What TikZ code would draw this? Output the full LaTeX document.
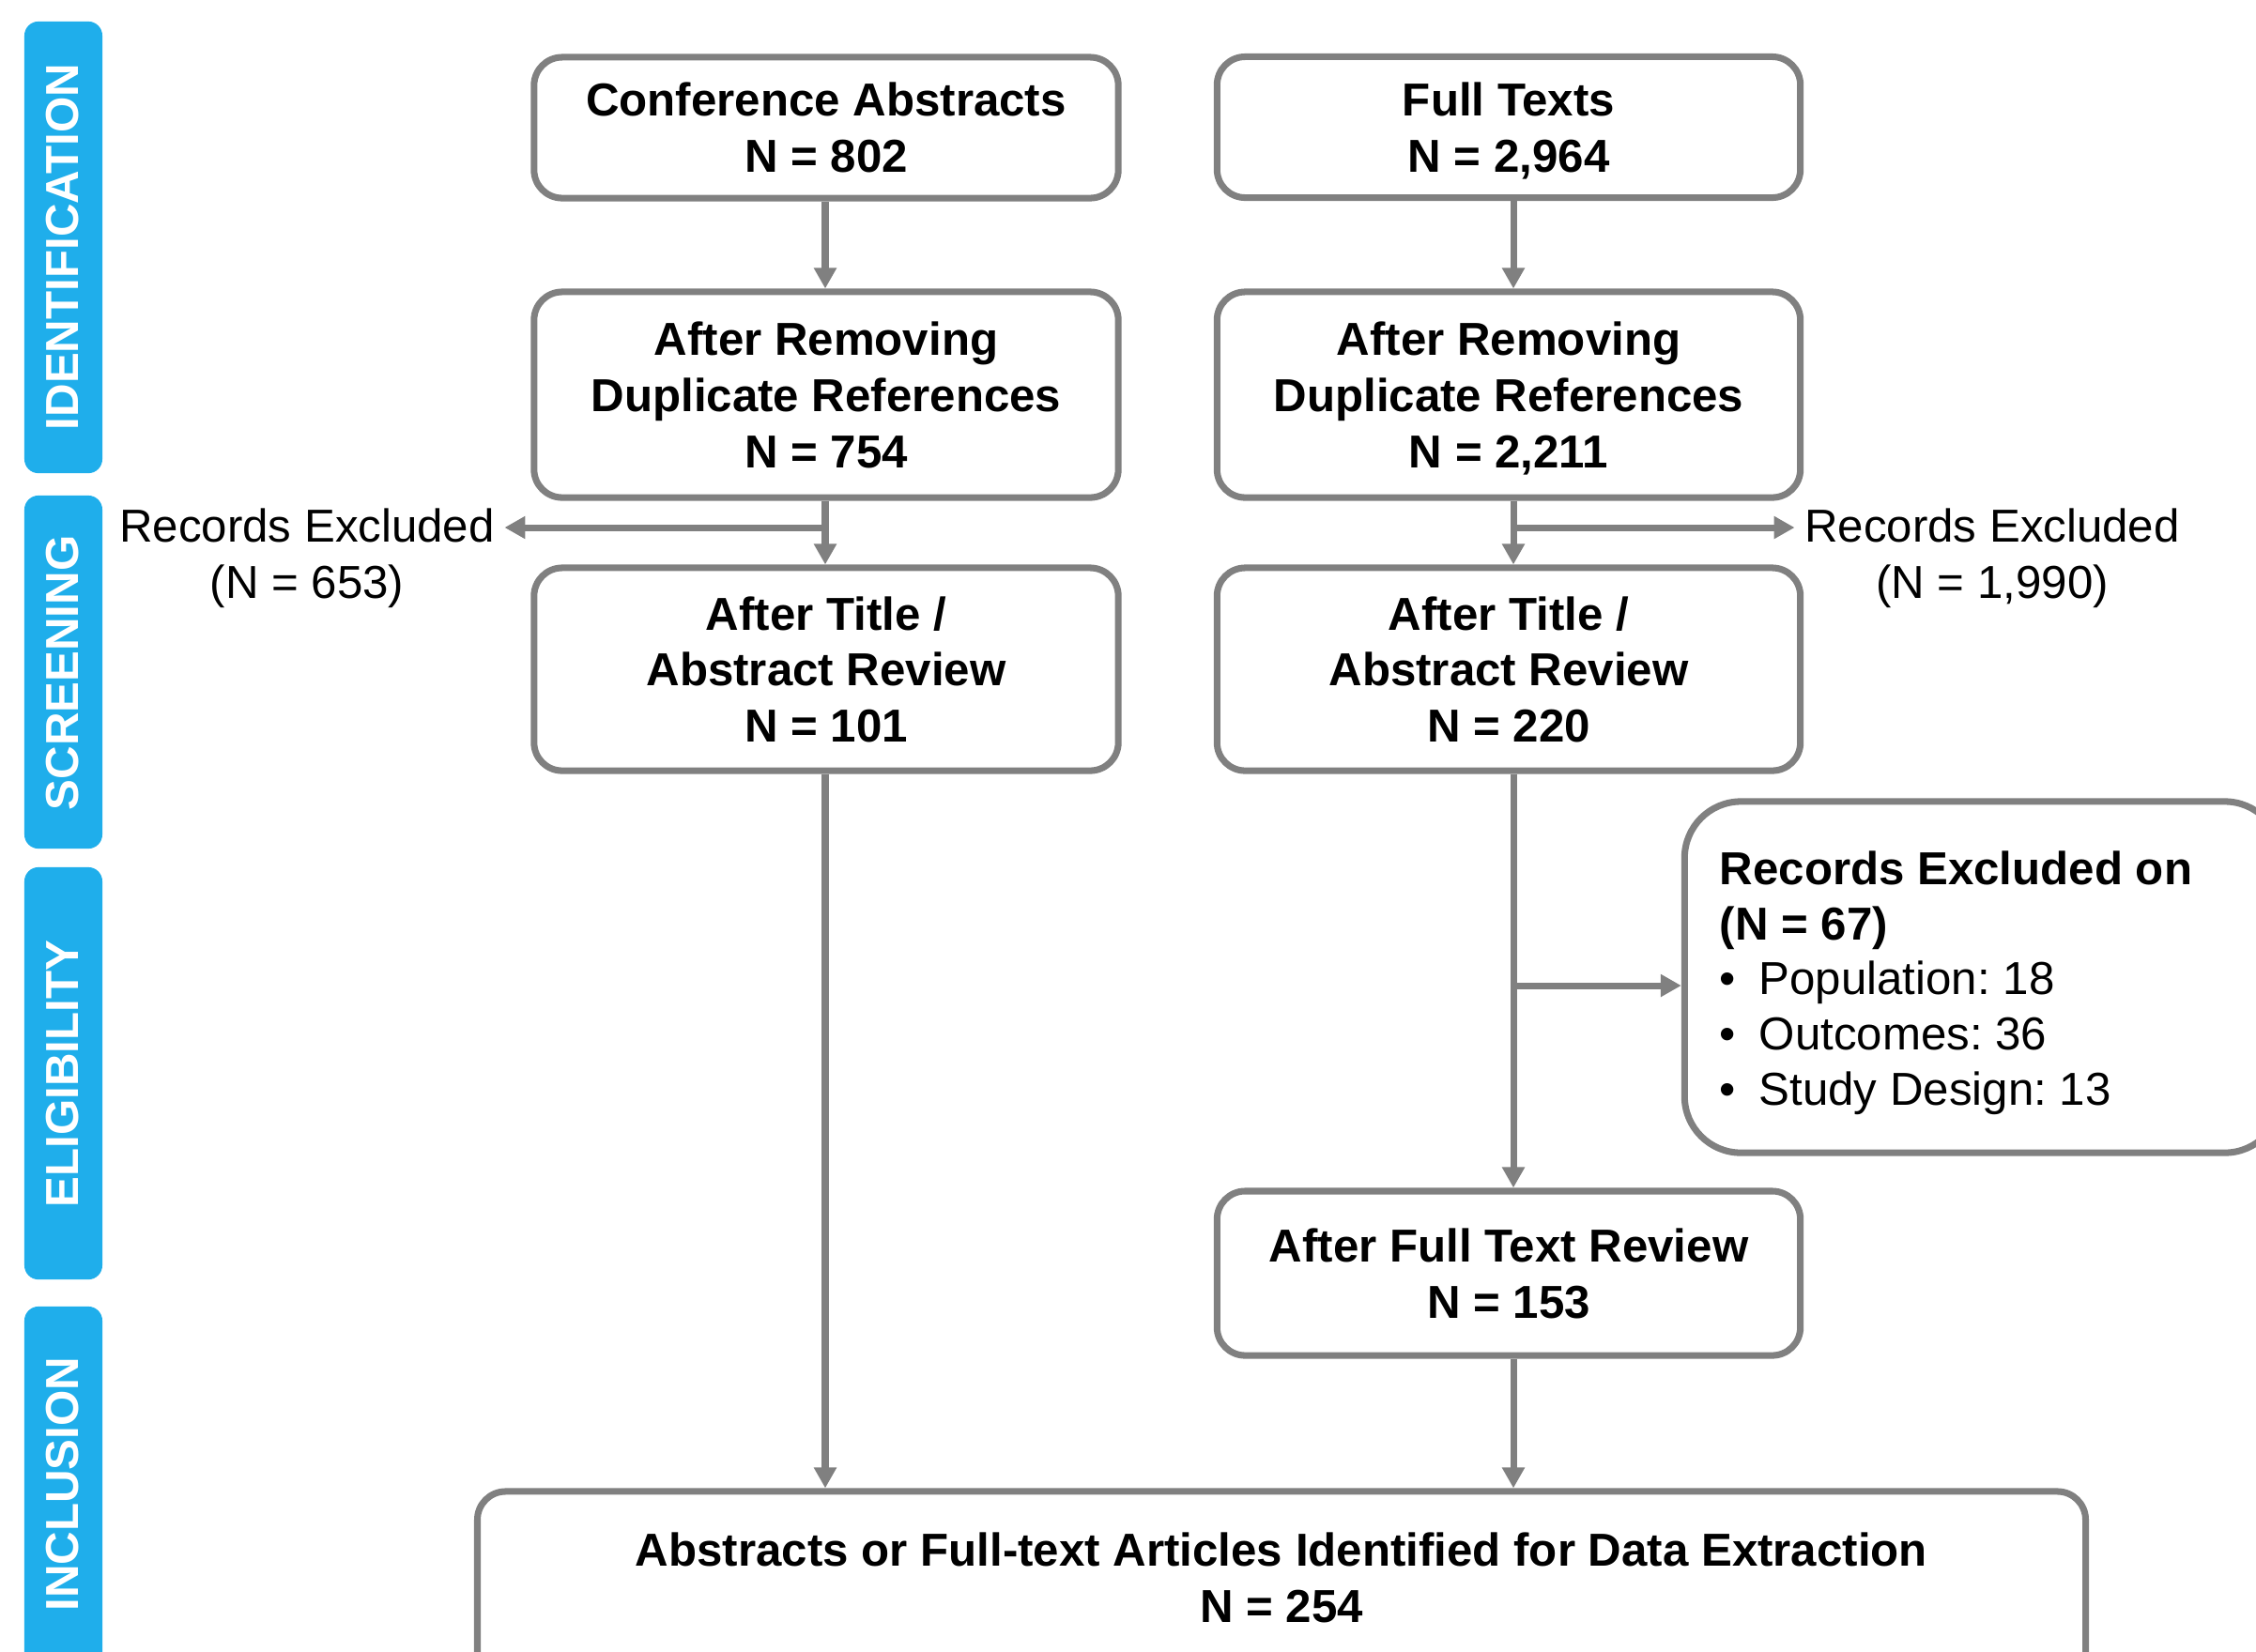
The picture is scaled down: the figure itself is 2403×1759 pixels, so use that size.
\documentclass[tikz,border=0pt]{standalone}
\usepackage{fontspec}
\setmainfont{Liberation Sans}
\usetikzlibrary{arrows.meta}
\definecolor{sidebar}{RGB}{31,174,235}
\definecolor{linegrey}{RGB}{128,128,128}
\frenchspacing
\begin{document}
\begin{tikzpicture}[x=0.01cm,y=-0.01cm,
  box/.style={draw=linegrey, line width=2pt, rounded corners=0.3cm, fill=white,
    align=center, font=\fontsize{14}{17}\selectfont\bfseries, inner sep=0pt},
  bigbox/.style={box, rounded corners=0.6cm},
  stagebar/.style={fill=sidebar, rounded corners=0.15cm, inner sep=0pt, minimum width=0.83cm},
  stagelabel/.style={text=white, font=\fontsize{14}{17}\selectfont\bfseries, rotate=90, inner sep=0pt},
  arr/.style={draw=linegrey, line width=2pt, -{Triangle[width=0.23cm,length=0.22cm]}},
  plainlabel/.style={font=\fontsize{14}{17}\selectfont, align=center, inner sep=0.1cm},
  listlabel/.style={font=\fontsize{14}{16.7}\selectfont, align=left, inner sep=0pt, anchor=north west}]
\useasboundingbox (0,0) rectangle (2403,1759);

% stage bars
\node[stagebar, minimum height=4.81cm] (sid) at (67.5,263.5) {};
\node[stagebar, minimum height=3.76cm] (ssc) at (67.5,716) {};
\node[stagebar, minimum height=4.39cm] (sel) at (67.5,1143.5) {};
\node[stagebar, minimum height=4.08cm] (sin) at (67.5,1596) {};
\node[stagelabel] (lid) at (67,263) {IDENTIFICATION};
\node[stagelabel] (lsc) at (67,717) {SCREENING};
\node[stagelabel] (lel) at (67,1144) {ELIGIBILITY};
\node[stagelabel] (lin) at (67,1581) {INCLUSION};

% left column
\node[box, minimum width=6.22cm, minimum height=1.50cm] (ca) at (880,136) {Conference Abstracts\\\smash{N = 802}};
\node[box, minimum width=6.22cm, minimum height=2.19cm] (dl) at (880,420.5) {After Removing\\Duplicate References\\\smash{N = 754}};
\node[box, minimum width=6.22cm, minimum height=2.16cm] (tl) at (880,713) {After Title /\\Abstract Review\\\smash{N = 101}};

% right column
\node[box, minimum width=6.21cm, minimum height=1.50cm] (ft) at (1607,135.5) {Full Texts\\\smash{N = 2,964}};
\node[box, minimum width=6.21cm, minimum height=2.19cm] (dr) at (1607,420.5) {After Removing\\Duplicate References\\\smash{N = 2,211}};
\node[box, minimum width=6.21cm, minimum height=2.16cm] (tr) at (1607,713) {After Title /\\Abstract Review\\\smash{N = 220}};
\node[box, minimum width=6.21cm, minimum height=1.75cm] (ftr) at (1607,1356.5) {After Full Text Review\\\smash{N = 153}};

% exclusion box (runs off the right edge)
\node[bigbox, minimum width=6.35cm, minimum height=3.74cm] (exo) at (2112,1041) {};
\node[listlabel] (exotext) at (1831,906) {\textbf{Records Excluded on}\\\textbf{(N = 67)}\\
  \makebox[0.42cm][l]{•}Population: 18\\
  \makebox[0.42cm][l]{•}Outcomes: 36\\
  \makebox[0.42cm][l]{•}Study Design: 13};

% final box (runs off the bottom edge)
\node[box, minimum width=17.12cm, minimum height=2.22cm] (fin) at (1365,1700) {};
\node[font=\fontsize{14}{17}\selectfont\bfseries, align=center, inner sep=0pt] (fintext) at (1365,1681)
  {Abstracts or Full-text Articles Identified for Data Extraction\\N = 254};

% excluded labels
\node[plainlabel] (el) at (327,595) {Records Excluded\\(N = 653)};
\node[plainlabel] (er) at (2122,595) {Records Excluded\\(N = 1,990)};

\coordinate (lx) at (879,0);
\coordinate (rx) at (1612,0);
\coordinate (jl) at (879,562);
\coordinate (jr) at (1612,562);
\coordinate (jx) at (1612,1050);

% connectors
\draw[arr] (ca.south -| lx) -- (dl.north -| lx);
\draw[arr] (dl.south -| lx) -- (tl.north -| lx);
\draw[arr] (tl.south -| lx) -- (fin.north -| lx);
\draw[arr] (jl) -- (jl -| el.east);
\draw[arr] (ft.south -| rx) -- (dr.north -| rx);
\draw[arr] (dr.south -| rx) -- (tr.north -| rx);
\draw[arr] (jr) -- (jr -| er.west);
\draw[arr] (tr.south -| rx) -- (ftr.north -| rx);
\draw[arr] (jx) -- (jx -| exo.west);
\draw[arr] (ftr.south -| rx) -- (fin.north -| rx);
\end{tikzpicture}
\end{document}
